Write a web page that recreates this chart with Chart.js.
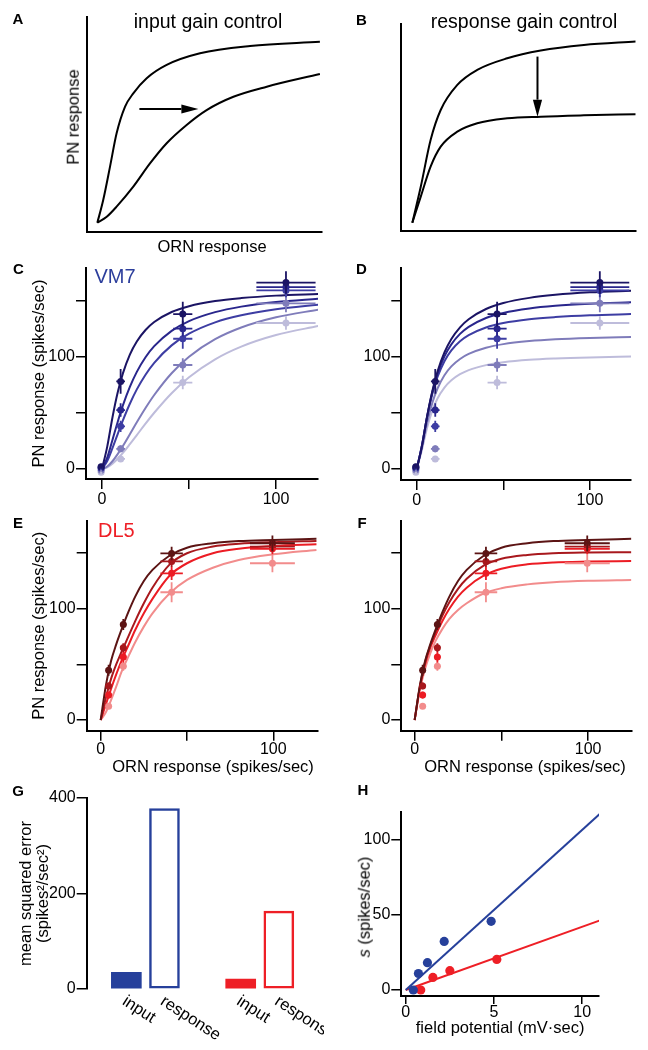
<!DOCTYPE html>
<html>
<head>
<meta charset="utf-8">
<title>Input and response gain control</title>
<script src="https://cdn.jsdelivr.net/npm/chart.js@4.4.1/dist/chart.umd.min.js"></script>
<style>
  html, body { margin: 0; padding: 0; background: #fff; }
  .fig { position: relative; width: 648px; height: 1050px; overflow: hidden;
         font-family: "Liberation Sans", Arial, Helvetica, sans-serif; color: #000; }
  .fig canvas { position: absolute; }
  .txt { position: absolute; white-space: nowrap; line-height: 1; transform: translate(-50%, -50%); }
  .txt.up { transform: translate(-50%, -50%) rotate(-90deg); }
  .tag { font-size: 15px; font-weight: bold; }
  .ttl { font-size: 19.5px; }
  .ax { font-size: 16.5px; }
  .glom { font-size: 20px; }
</style>
</head>
<body>
<div class="fig" id="fig">
  <div class="txt tag" style="left:18px;top:18px">A</div>
  <div class="txt tag" style="left:361.5px;top:18.5px">B</div>
  <div class="txt tag" style="left:18.5px;top:268px">C</div>
  <div class="txt tag" style="left:361.5px;top:268px">D</div>
  <div class="txt tag" style="left:18px;top:521.5px">E</div>
  <div class="txt tag" style="left:362px;top:521.5px">F</div>
  <div class="txt tag" style="left:18px;top:790px">G</div>
  <div class="txt tag" style="left:363px;top:789px">H</div>

  <div class="txt ttl" style="left:208px;top:21.5px">input gain control</div>
  <div class="txt ttl" style="left:524px;top:21.5px">response gain control</div>
  <div class="txt ax up" style="left:72.6px;top:116.7px">PN response</div>
  <div class="txt ax" style="left:212px;top:246px">ORN response</div>
  <div class="txt glom" style="left:115px;top:275.5px;color:#2c3e9c">VM7</div>
  <div class="txt glom" style="left:116.3px;top:529.5px;color:#ee1f26">DL5</div>
  <div class="txt ax" style="left:213px;top:766px">ORN response (spikes/sec)</div>
  <div class="txt ax" style="left:525px;top:766px">ORN response (spikes/sec)</div>
  <div class="txt ax up" style="left:364px;top:906.7px"><i>s</i> (spikes/sec)</div>
</div>

<script>
// ---- A / B: schematic curves (arbitrary units, 0-10) ----
var baseX = [0.44, 0.69, 0.98, 1.26, 1.62, 1.97, 2.54, 3.39, 4.81, 6.94, 9.91];
var baseY = [0.43, 1.49, 3.04, 4.59, 5.83, 6.45, 7.15, 7.77, 8.31, 8.65, 8.85];
var inputGainX = [0.44, 0.84, 1.26, 1.97, 2.68, 3.39, 4.24, 5.09, 6.23, 7.65, 9.91];
var inputGainY = [0.43, 0.71, 1.18, 2.11, 3.19, 4.13, 4.98, 5.67, 6.29, 6.76, 7.35];
var respX = [0.47, 0.83, 1.25, 1.68, 2.39, 3.24, 4.52, 5.95, 7.79, 10];
var respBaseY = [0.37, 2.05, 4.23, 5.63, 6.80, 7.50, 8.04, 8.40, 8.66, 8.82];
var respGainY = [0.37, 1.59, 2.99, 3.92, 4.62, 5.01, 5.24, 5.32, 5.38, 5.43];
var arrowA = [[2.23, 5.72], [4.74, 5.72]];
var arrowB = [[5.81, 8.12], [5.81, 5.32]];

// ---- C-F: fitted curves, sampled at fitX (ORN spikes/sec) ----
var fitX = [0, 3, 6, 9, 12, 16, 20, 25, 30, 40, 50, 65, 80, 100, 125];

var vm7InputFit = [
  [0, 19.9, 45.9, 68.1, 85.2, 101.9, 113.6, 123.8, 130.9, 139.8, 145.0, 149.6, 152.2, 154.4, 155.9],
  [0, 10.2, 25.9, 41.9, 56.6, 73.1, 86.5, 99.5, 109.4, 123.0, 131.7, 139.7, 144.6, 148.7, 151.7],
  [0, 7.1, 18.6, 31.1, 43.3, 58.1, 70.9, 84.0, 94.6, 110.1, 120.5, 130.6, 136.9, 142.3, 146.5],
  [0, 2.2, 6.9, 13.3, 20.5, 31.0, 41.6, 54.3, 65.9, 85.3, 100.0, 115.6, 126.0, 135.1, 142.1],
  [0, 1.5, 4.7, 9.1, 14.3, 22.1, 30.2, 40.4, 50.1, 67.5, 81.7, 97.7, 109.0, 119.3, 127.6]
];
var vm7RespFit = [
  [0, 20.3, 46.8, 69.3, 86.8, 103.8, 115.8, 126.2, 133.4, 142.5, 147.8, 152.4, 155.1, 157.3, 158.8],
  [0, 20.7, 46.8, 68.4, 84.7, 100.3, 111.0, 120.3, 126.6, 134.5, 139.0, 143.0, 145.3, 147.1, 148.5],
  [0, 20.8, 46.4, 66.8, 81.9, 96.0, 105.6, 113.7, 119.2, 126.0, 130.0, 133.4, 135.3, 136.9, 138.0],
  [0, 18.8, 41.3, 58.9, 71.7, 83.5, 91.4, 98.0, 102.5, 108.0, 111.2, 113.9, 115.5, 116.7, 117.6],
  [0, 17.0, 36.8, 52.0, 62.8, 72.5, 79.0, 84.4, 88.1, 92.5, 95.0, 97.2, 98.4, 99.4, 100.2]
];
var vm7Orn = [-0.5, 10.7, 46.4, 105.7];
var vm7OrnErr = [0.6, 2.5, 5.5, 17];
var vm7Pn = [
  [2, 78, 138, 166],
  [1.5, 52.5, 125, 162],
  [0.6, 38, 116, 159],
  [-1, 18, 92.6, 147.5],
  [-3, 9, 77, 130]
];
var vm7PnErr = [
  [1.5, 11, 11, 10],
  [1.5, 6, 7, 6],
  [1.5, 5, 9, 6],
  [1.5, 3, 6, 8],
  [1.5, 2.5, 6, 6]
];

var dl5InputFit = [
  [0, 31, 53, 68, 81, 97, 111, 125, 135, 148, 155, 159, 161, 162, 163],
  [0, 20, 37, 50, 61, 75, 89, 105, 119, 140, 150, 156, 158.5, 160, 161],
  [0, 14, 28, 41, 53, 67, 81, 96, 109, 130, 141, 150, 154, 156.5, 158],
  [0, 7, 18, 30, 43, 57, 70, 84, 96, 114, 126, 137, 144, 149, 153]
];
var dl5RespFit = [
  [0, 31, 53, 68, 81, 97, 111, 125, 135, 148, 155, 159, 161, 162, 163],
  [0, 30, 52, 67, 79, 94, 106, 118, 127, 139, 145, 148.5, 150, 150.7, 151],
  [0, 29, 50, 65, 76, 89, 100, 111, 119, 130, 136, 140, 141.7, 142.5, 143],
  [0, 27, 46, 60, 71, 82, 91, 99, 105, 114, 118.5, 122, 124, 125.3, 126]
];
var dl5Orn = [4.6, 13.1, 41.1, 99.5];
var dl5OrnErr = [1, 1.8, 6.5, 13];
var dl5Pn = [
  [44.8, 85.9, 149.8, 159],
  [30.7, 65.1, 142.6, 156],
  [22.4, 56.7, 131.9, 154],
  [12.5, 48.3, 114.9, 141]
];
var dl5PnErr = [
  [5, 5, 6, 7],
  [3, 4, 5, 5],
  [3, 5, 6, 5],
  [2.5, 4, 9, 8]
];

// ---- G: mean squared error of each model ----
var mseModels = ["input", "response"];
var mseVM7 = [35, 378];
var mseDL5 = [21, 163];

// ---- H: s vs field potential ----
var fpVM7 = [0.43, 0.72, 1.23, 2.18, 4.84];
var sVM7 = [0, 11, 18.2, 32.4, 45.8];
var fpDL5 = [0.85, 1.54, 2.5, 5.16];
var sDL5 = [0, 8.4, 12.9, 20.4];
var fitRange = [0, 11];
var fitVM7 = [0, 117.5];
var fitDL5 = [0, 46.4];

// ticks
var pnTicks = [0, 50, 100, 150];
var ornTicks = [0, 50, 100];
var hundredLabels = [0, 100];
var mseTicks = [0, 200, 400];
var sTicks = [0, 50, 100];
var fpTicks = [0, 5, 10];

var vm7Colors = ["#1b1464", "#29268c", "#3d3da3", "#7f7cba", "#bebcdb"];
var dl5Colors = ["#5c1414", "#a8181d", "#ec1c24", "#f28c8c"];
var blue = "#26409b";
var red = "#ee1f26";

(function () {
  "use strict";

  var fig = document.getElementById("fig");
  var FONT = '"Liberation Sans", Arial, Helvetica, sans-serif';
  Chart.defaults.font.family = FONT;
  Chart.defaults.color = "#000";

  function pts(xs, ys) {
    return xs.map(function (x, i) { return { x: x, y: ys[i] }; });
  }

  // linear axis with outward tick marks and only some values labelled
  function axis(o) {
    var a = {
      type: "linear",
      min: o.min,
      max: o.max,
      offset: false,
      grid: { display: !!o.ticks, drawOnChartArea: false, drawTicks: true, tickLength: o.tl || 10, color: "#000", lineWidth: 1.5 },
      border: { display: o.border !== false, color: "#000", width: 2 },
      ticks: {
        display: !!o.ticks,
        autoSkip: false,
        maxRotation: 0,
        padding: o.pad == null ? 1 : o.pad,
        color: "#000",
        font: { size: 16, lineHeight: 1 },
        callback: function (v) {
          return !o.labeled || o.labeled.indexOf(v) >= 0 ? String(v) : "";
        }
      },
      title: { display: false }
    };
    if (o.ticks) {
      a.afterBuildTicks = function (s) {
        s.ticks = o.ticks.map(function (v) { return { value: v }; });
      };
    }
    if (o.title) {
      a.title = {
        display: true,
        text: o.title,
        color: "#000",
        font: { size: 16.5, lineHeight: o.lh || 1.2 },
        padding: o.titlePad
      };
    }
    return a;
  }

  // one canvas per panel; area = chart area in page pixels
  function panel(box, area, cfg) {
    var c = document.createElement("canvas");
    c.width = box[2];
    c.height = box[3];
    c.style.left = box[0] + "px";
    c.style.top = box[1] + "px";
    fig.insertBefore(c, fig.firstChild);
    var o = cfg.options;
    o.responsive = false;
    o.animation = false;
    o.devicePixelRatio = 1;
    o.layout = { padding: { left: 0, bottom: 0, top: area[1] - box[1], right: box[0] + box[2] - area[2] } };
    o.scales.x.afterFit = function (s) { s.height = box[1] + box[3] - area[3]; };
    o.scales.y.afterFit = function (s) { s.width = area[0] - box[0]; };
    o.plugins = o.plugins || {};
    o.plugins.legend = { display: false };
    o.plugins.tooltip = { enabled: false };
    return new Chart(c, cfg);
  }

  var arrowPlugin = {
    id: "arrow",
    afterDatasetsDraw: function (chart) {
      var a = chart.options.plugins.arrow;
      if (!a || !a.points) return;
      var xs = chart.scales.x, ys = chart.scales.y, ctx = chart.ctx;
      var x1 = xs.getPixelForValue(a.points[0][0]), y1 = ys.getPixelForValue(a.points[0][1]);
      var x2 = xs.getPixelForValue(a.points[1][0]), y2 = ys.getPixelForValue(a.points[1][1]);
      var ang = Math.atan2(y2 - y1, x2 - x1);
      var cs = Math.cos(ang), sn = Math.sin(ang), head = 17, half = 4.6;
      var bx = x2 - head * cs, by = y2 - head * sn;
      ctx.save();
      ctx.strokeStyle = ctx.fillStyle = "#000";
      ctx.lineWidth = 2;
      ctx.beginPath();
      ctx.moveTo(x1, y1);
      ctx.lineTo(bx, by);
      ctx.stroke();
      ctx.beginPath();
      ctx.moveTo(x2, y2);
      ctx.lineTo(bx + half * sn, by - half * cs);
      ctx.lineTo(bx - half * sn, by + half * cs);
      ctx.closePath();
      ctx.fill();
      ctx.restore();
    }
  };

  var errorBars = {
    id: "errorBars",
    afterDatasetsDraw: function (chart) {
      var xs = chart.scales.x, ys = chart.scales.y, ctx = chart.ctx;
      var sets = chart.data.datasets;
      ctx.save();
      ctx.lineWidth = 1.8;
      for (var i = sets.length - 1; i >= 0; i--) {
        var ds = sets[i];
        if (!ds.errY) continue;
        ctx.strokeStyle = ds.backgroundColor;
        ds.data.forEach(function (p, j) {
          var px = xs.getPixelForValue(p.x), py = ys.getPixelForValue(p.y);
          ctx.beginPath();
          ctx.moveTo(xs.getPixelForValue(p.x - ds.errX[j]), py);
          ctx.lineTo(xs.getPixelForValue(p.x + ds.errX[j]), py);
          ctx.moveTo(px, ys.getPixelForValue(p.y - ds.errY[j]));
          ctx.lineTo(px, ys.getPixelForValue(p.y + ds.errY[j]));
          ctx.stroke();
        });
      }
      ctx.restore();
    }
  };

  var barNames = {
    id: "barNames",
    afterDatasetsDraw: function (chart) {
      var ds = chart.data.datasets[0], meta = chart.getDatasetMeta(0), ctx = chart.ctx;
      var y = chart.chartArea.bottom + 4;
      ctx.save();
      ctx.font = "16.5px " + FONT;
      ctx.fillStyle = "#000";
      ctx.textAlign = "left";
      ctx.textBaseline = "top";
      meta.data.forEach(function (bar, i) {
        ctx.save();
        ctx.translate(bar.x + 2, y);
        ctx.rotate(33 * Math.PI / 180);
        ctx.fillText(ds.names[i], 0, 0);
        ctx.restore();
      });
      ctx.restore();
    }
  };

  function schematic(box, area, curves, ymax, arrow) {
    return panel(box, area, {
      type: "scatter",
      data: {
        datasets: curves.map(function (c) {
          return { type: "line", data: pts(c[0], c[1]), borderColor: "#000", borderWidth: 2, pointRadius: 0, fill: false, cubicInterpolationMode: "monotone" };
        })
      },
      options: {
        scales: { x: axis({ min: 0, max: 10 }), y: axis({ min: 0, max: ymax }) },
        plugins: { arrow: { points: arrow } }
      },
      plugins: [arrowPlugin]
    });
  }

  function gainPanel(box, area, fits, obs, obsErr, orn, ornErr, colors, xr, yr, xpad, ytitle) {
    var ds = [];
    colors.forEach(function (col, i) {
      ds.push({ type: "scatter", data: pts(orn, obs[i]), errX: ornErr, errY: obsErr[i], backgroundColor: col, borderWidth: 0, pointRadius: 3.5 });
    });
    colors.forEach(function (col, i) {
      ds.push({ type: "line", data: pts(fitX, fits[i]), borderColor: col, borderWidth: 2, pointRadius: 0, fill: false, cubicInterpolationMode: "monotone" });
    });
    return panel(box, area, {
      type: "scatter",
      data: { datasets: ds },
      options: {
        scales: {
          x: axis({ min: xr[0], max: xr[1], ticks: ornTicks, labeled: hundredLabels, pad: xpad }),
          y: axis({ min: yr[0], max: yr[1], ticks: pnTicks, labeled: hundredLabels, title: ytitle, titlePad: { top: 29.6, bottom: 0 } })
        }
      },
      plugins: [errorBars]
    });
  }

  // A, B
  schematic([0, 0, 324, 260], [87, 17, 322, 232], [[baseX, baseY], [inputGainX, inputGainY]], 10, arrowA);
  schematic([324, 0, 324, 260], [401.3, 24, 635.7, 230.7], [[respX, respBaseY], [respX, respGainY]], 9.64, arrowB);

  // C-F
  gainPanel([0, 258, 324, 262], [86, 268, 318, 479], vm7InputFit, vm7Pn, vm7PnErr, vm7Orn, vm7OrnErr, vm7Colors,
    [-9.2, 124.1], [-8.9, 179], 3, "PN response (spikes/sec)");
  gainPanel([324, 258, 324, 262], [401.3, 268, 631, 480], vm7RespFit, vm7Pn, vm7PnErr, vm7Orn, vm7OrnErr, vm7Colors,
    [-8.9, 123.7], [-9.8, 179], 3, null);
  gainPanel([0, 512, 324, 268], [86.7, 520, 318, 730.7], dl5InputFit, dl5Pn, dl5PnErr, dl5Orn, dl5OrnErr, dl5Colors,
    [-8.1, 125.9], [-9.6, 179], 0.5, "PN response (spikes/sec)");
  gainPanel([324, 512, 324, 268], [401.3, 520, 631.3, 730.7], dl5RespFit, dl5Pn, dl5PnErr, dl5Orn, dl5OrnErr, dl5Colors,
    [-7.7, 124.9], [-9.6, 179], 0.5, null);

  // G: bars, one empty slot between the two glomeruli
  var bars = [], fills = [], edges = [], widths = [], names = [];
  [mseVM7, mseDL5].forEach(function (vals, g) {
    var col = g === 0 ? blue : red;
    vals.forEach(function (v, k) {
      bars.push({ x: g * (mseModels.length + 1) + k, y: v });
      fills.push(k === 0 ? col : "#fff");
      edges.push(col);
      widths.push(k === 0 ? 0 : 2.5);
      names.push(mseModels[k]);
    });
  });
  panel([0, 780, 324, 270], [86.7, 798, 320, 989], {
    type: "bar",
    data: {
      datasets: [{
        data: bars,
        names: names,
        backgroundColor: fills,
        borderColor: edges,
        borderWidth: widths,
        borderSkipped: false,
        barThickness: 30
      }]
    },
    options: {
      scales: {
        x: axis({ min: -1.04, max: 5.08, border: false }),
        y: axis({ min: 0, max: 400, ticks: mseTicks, title: ["mean squared error", "(spikes\u00b2/sec\u00b2)"], lh: 1.03, titlePad: { top: 17.5, bottom: 0 } })
      }
    },
    plugins: [barNames]
  });

  // H
  var hx = axis({ min: -0.25, max: 10.95, ticks: fpTicks, tl: 8, pad: 0.5, title: "field potential (mV\u00b7sec)" });
  hx.title.padding = { top: 0, bottom: 12.1 };
  panel([324, 780, 324, 270], [401.3, 812.3, 599, 996], {
    type: "scatter",
    data: {
      datasets: [
        { data: pts(fpVM7, sVM7), backgroundColor: blue, borderWidth: 0, pointRadius: 4.6 },
        { data: pts(fpDL5, sDL5), backgroundColor: red, borderWidth: 0, pointRadius: 4.6 },
        { type: "line", data: pts(fitRange, fitVM7), borderColor: blue, borderWidth: 2, pointRadius: 0, fill: false },
        { type: "line", data: pts(fitRange, fitDL5), borderColor: red, borderWidth: 2, pointRadius: 0, fill: false }
      ]
    },
    options: {
      scales: {
        x: hx,
        y: axis({ min: -4, max: 118.5, ticks: sTicks })
      }
    }
  });
})();
</script>
</body>
</html>
